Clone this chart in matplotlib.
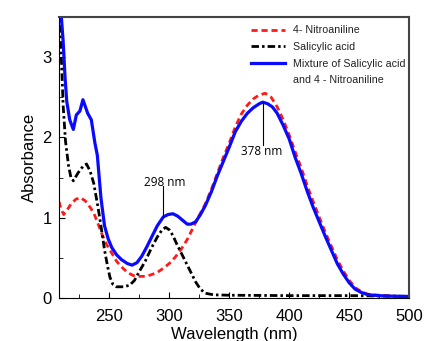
import matplotlib
matplotlib.use('Agg')
import matplotlib.pyplot as plt
from matplotlib.lines import Line2D
from matplotlib.ticker import MultipleLocator

plt.rcParams['font.family'] = ['Liberation Sans', 'DejaVu Sans']

# 4-Nitroaniline
na_wl = [208, 210, 212, 215, 218, 222, 226, 230, 234, 237, 240, 244, 248, 252, 256, 260,
         265, 270, 275, 280, 285, 290, 295, 300, 305, 310, 315, 320, 325, 330, 335, 340,
         345, 350, 355, 360, 365, 370, 375, 380, 385, 390, 395, 400, 405, 410, 415, 420,
         425, 430, 435, 440, 445, 450, 455, 460, 465, 470, 480, 490, 500]
na_abs = [1.20, 1.10, 1.04, 1.10, 1.17, 1.23, 1.25, 1.21, 1.13, 1.06, 0.95, 0.79, 0.66, 0.56, 0.46, 0.39,
          0.32, 0.28, 0.27, 0.27, 0.29, 0.32, 0.37, 0.43, 0.51, 0.61, 0.73, 0.88, 1.03, 1.17, 1.35, 1.55,
          1.75, 1.93, 2.13, 2.29, 2.40, 2.48, 2.53, 2.55, 2.50, 2.38, 2.22, 2.03, 1.82, 1.62, 1.40, 1.20,
          1.01, 0.82, 0.65, 0.48, 0.34, 0.22, 0.13, 0.08, 0.05, 0.04, 0.03, 0.02, 0.02]

# Salicylic acid
sa_wl = [208, 210, 211.5, 213.5, 216, 218, 220, 224, 228, 231, 234, 237, 240, 242, 244, 246,
         248.5, 250.5, 253, 256, 262, 267, 271, 275, 280, 285, 290, 294, 297, 300, 303, 306,
         310, 314, 318, 322, 326, 330, 337, 350, 400, 450, 480, 500]
sa_abs = [3.6, 3.0, 2.4, 1.95, 1.65, 1.50, 1.46, 1.56, 1.64, 1.67, 1.58, 1.43, 1.18, 1.00, 0.80, 0.60,
          0.40, 0.26, 0.17, 0.14, 0.14, 0.16, 0.22, 0.33, 0.46, 0.62, 0.76, 0.85, 0.88, 0.85, 0.78, 0.68,
          0.56, 0.44, 0.32, 0.20, 0.11, 0.06, 0.04, 0.035, 0.03, 0.03, 0.025, 0.02]

# Mixture
mx_wl = [208, 210, 211.5, 213, 214.5, 217, 220, 222.5, 225.5, 228, 232, 235, 238, 240, 243, 246,
         249, 252, 256, 260, 265, 269, 273, 277, 281, 285, 290, 295, 299, 303, 307, 311,
         315, 318, 322, 326, 330, 335, 340, 345, 350, 355, 360, 365, 370, 375, 378, 382,
         386, 390, 395, 400, 405, 410, 415, 420, 425, 430, 435, 440, 445, 450, 455, 460,
         465, 470, 480, 500]
mx_abs = [3.6, 3.5, 3.2, 2.77, 2.45, 2.22, 2.10, 2.28, 2.33, 2.47, 2.30, 2.22, 1.93, 1.78, 1.25, 0.90,
          0.74, 0.63, 0.54, 0.48, 0.43, 0.41, 0.44, 0.52, 0.63, 0.75, 0.90, 1.01, 1.04, 1.05, 1.02, 0.97,
          0.92, 0.92, 0.95, 1.04, 1.15, 1.32, 1.52, 1.70, 1.88, 2.07, 2.20, 2.30, 2.37, 2.42, 2.44, 2.42,
          2.38, 2.30, 2.15, 1.98, 1.75, 1.55, 1.33, 1.13, 0.95, 0.77, 0.60, 0.43, 0.30, 0.19, 0.11, 0.07,
          0.045, 0.035, 0.025, 0.02]

fig = plt.figure(figsize=(4.24, 3.41), dpi=100)
ax = fig.add_axes([0.139, 0.126, 0.826, 0.824])

ax.plot(na_wl, na_abs, color='#ff1a1a', lw=2.0, linestyle=(0, (2.2, 1.4)), label='4- Nitroaniline')
ax.plot(sa_wl, sa_abs, color='black', lw=2.0, linestyle=(0, (2.7, 1.1, 0.9, 1.1)), label='Salicylic acid')
ax.plot(mx_wl, mx_abs, color='#0a0aff', lw=2.3, label='Mixture of Salicylic acid')

# peak markers
ax.plot([295, 295], [1.01, 1.39], color='black', lw=0.8)
ax.text(296, 1.44, '298 nm', ha='center', va='center', fontsize=8.5, family='Open Sans')
ax.plot([378.5, 378.5], [1.91, 2.44], color='black', lw=0.8)
ax.text(377, 1.83, '378 nm', ha='center', va='center', fontsize=8.5, family='Open Sans')

ax.set_xlim(208, 500)
ax.set_ylim(0, 3.5)
ax.xaxis.set_major_locator(MultipleLocator(50))
ax.xaxis.set_minor_locator(MultipleLocator(25))
ax.yaxis.set_major_locator(MultipleLocator(1))
ax.yaxis.set_minor_locator(MultipleLocator(0.5))
ax.tick_params(which='both', direction='in', labelsize=12)
ax.tick_params(axis='x', which='major', length=4, pad=8)
ax.tick_params(axis='y', which='major', length=4, pad=5)
ax.tick_params(which='minor', length=3)

for s in ['top', 'right']:
    ax.spines[s].set_color('#444444')
    ax.spines[s].set_linewidth(1.5)

ax.set_xlabel('Wavelength (nm)', fontsize=12, labelpad=2)
ax.set_ylabel('Absorbance', fontsize=12, labelpad=4)

handles, labels = ax.get_legend_handles_labels()
handles.append(Line2D([], [], color='none'))
labels.append('and 4 - Nitroaniline')
leg = ax.legend(handles, labels, loc='upper left', bbox_to_anchor=(0.549, 0.97),
                frameon=False, fontsize=7.7, handlelength=3.2, handletextpad=0.7,
                labelspacing=0.62, borderpad=0, borderaxespad=0)
for t in leg.get_texts():
    t.set_color('#222222')

fig.savefig('out.png', dpi=100)
